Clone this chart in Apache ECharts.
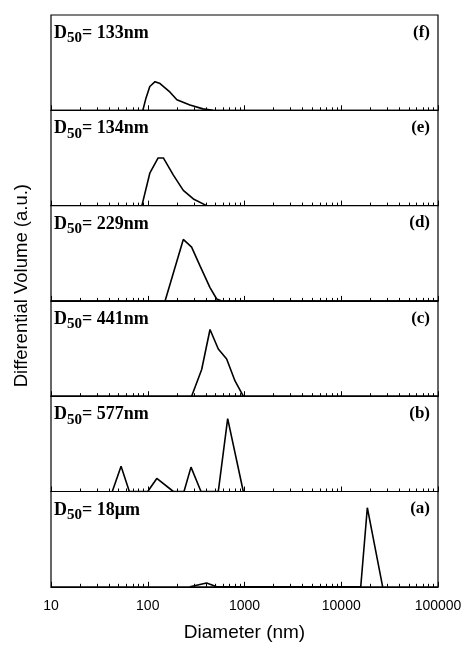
<!DOCTYPE html>
<html>
<head>
<meta charset="utf-8">
<script src="https://cdn.jsdelivr.net/npm/echarts@6/dist/echarts.min.js"></script>
<style>
  html, body { margin: 0; padding: 0; background: #fff; }
  #chart { width: 473px; height: 656px; }
</style>
</head>
<body>
<div id="chart"></div>
<script>
// Panel tags and D50 values, top panel first
var panelTags = ["(f)", "(e)", "(d)", "(c)", "(b)", "(a)"];
var d50Labels = ["133nm", "134nm", "229nm", "441nm", "577nm", "18\u03bcm"];

// Diameter (nm) / differential volume (a.u.)
var diamF = [89, 96, 105, 119, 134, 170, 200, 273, 372, 472];
var volF  = [0, 13, 25, 30, 28, 19, 11, 5.5, 1.5, 0];

var diamE = [87, 105, 128, 145, 184, 233, 296, 406];
var volE  = [0, 34, 50, 50, 32, 16, 7, 0];

var diamD = [151, 233, 284, 346, 440, 516, 581];
var volD  = [0, 64.5, 56.5, 37, 14, 2, 0];

var diamC = [284, 361, 440, 536, 654, 798, 972];
var volC  = [0, 28, 70, 49.5, 39, 16, 0];

var diamB = [43, 53, 64.5, 100, 124, 184, 237, 280, 355, 536, 670, 972];
var volB  = [0, 26.6, 0, 0, 13.7, 0, 0, 25.6, 0, 0, 76.5, 0];

var diamA = [273, 406, 516, 15900, 18600, 26800];
var volA  = [0, 4, 0, 0, 83, 0];

var panelDiam = [diamF, diamE, diamD, diamC, diamB, diamA];
var panelVol  = [volF, volE, volD, volC, volB, volA];

var chart = echarts.init(document.getElementById("chart"));

var plotTop = 15;
var panelH = 95.3;
var gridLeft = 51;
var gridRight = 35;

var grids = [], xAxes = [], yAxes = [], series = [], titles = [];

panelDiam.forEach(function (diam, i) {
	var last = (i == panelDiam.length - 1);
	var top = plotTop + i * panelH;

	grids.push({
		left: gridLeft, right: gridRight, top: top, height: panelH,
		show: true, borderColor: "#000", borderWidth: 1.2, backgroundColor: "#fff"
	});

	xAxes.push({
		type: "log", gridIndex: i, min: 10, max: 100000, logBase: 10,
		axisLine: { show: true, lineStyle: { color: "#000", width: 1.2 } },
		axisTick: { show: true, inside: true, length: 5, lineStyle: { color: "#000" } },
		minorTick: { show: true, splitNumber: 9, length: 3, lineStyle: { color: "#000" } },
		splitLine: { show: false },
		axisLabel: {
			show: last, color: "#000", fontFamily: "Arial, Liberation Sans", fontSize: 14, margin: 12,
			// plain numbers, no thousands separator
			formatter: function (v) { return String(Math.round(v)); }
		},
		name: last ? "Diameter (nm)" : "",
		nameLocation: "middle",
		nameGap: 36,
		nameTextStyle: { color: "#000", fontFamily: "Arial, Liberation Sans", fontSize: 19 }
	});

	yAxes.push({
		type: "value", gridIndex: i, min: 0, max: 100, show: false
	});

	series.push({
		type: "line", xAxisIndex: i, yAxisIndex: i,
		data: diam.map(function (d, k) { return [d, panelVol[i][k]]; }),
		showSymbol: false, symbol: "none",
		lineStyle: { color: "#000", width: 1.6 },
		z: 3
	});

	titles.push({
		text: "{d|D}{s|50}{d|= " + d50Labels[i] + "}",
		left: 49, top: top + 1,
		textStyle: {
			rich: {
				d: { fontFamily: "Liberation Serif", fontWeight: "bold", fontSize: 18, color: "#000" },
				s: { fontFamily: "Liberation Serif", fontWeight: "bold", fontSize: 15, color: "#000", padding: [10, 0, 0, 0] }
			}
		}
	});
	titles.push({
		text: panelTags[i],
		right: 38, top: top + 4,
		textStyle: { fontFamily: "Liberation Serif", fontWeight: "bold", fontSize: 17, color: "#000" }
	});
});

chart.setOption({
	animation: false,
	backgroundColor: "#fff",
	title: titles,
	grid: grids,
	xAxis: xAxes,
	yAxis: yAxes,
	series: series,
	graphic: [{
		type: "text",
		left: 12, top: 184,
		rotation: Math.PI / 2,
		style: {
			text: "Differential Volume (a.u.)",
			fontFamily: "Arial, Liberation Sans",
			fontSize: 18.5,
			fill: "#000"
		}
	}]
});
</script>
</body>
</html>
